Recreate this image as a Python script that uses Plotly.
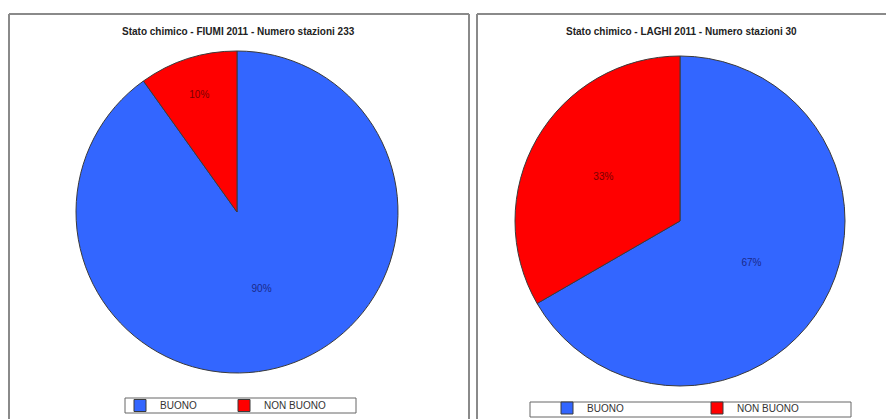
import plotly.graph_objects as go

# page body has an 8px margin, so the figure is drawn 8px smaller and offset
OFF = 8
W, H = 894 - OFF, 419 - OFF

categories = ["BUONO", "NON BUONO"]
# pie legends merge identical labels across traces; a trailing space keeps the
# second chart's legend entries separate while rendering the same text
categories_laghi = [c + " " for c in categories]
fiumi_values = [210, 23]
laghi_values = [20, 10]
titles = ["Stato chimico - FIUMI 2011 - Numero stazioni 233",
          "Stato chimico - LAGHI 2011 - Numero stazioni 30"]

colors = ["#3366FF", "#FF0000"]
text_colors = ["#1a2a8a", "#7a0000"]

def px(x):
    return (x - OFF) / W

def py(y):
    return 1 - (y - OFF) / H

fig = go.Figure()

fig.add_trace(go.Pie(
    labels=categories, values=fiumi_values, sort=False, direction="clockwise",
    rotation=0, marker=dict(colors=colors, line=dict(color="#3a3a3a", width=1)),
    texttemplate="%{percent:.0%}", textposition="inside",
    insidetextorientation="horizontal",
    textfont=dict(family="Liberation Sans", size=10, color=text_colors),
    domain=dict(x=[px(76), px(398)], y=[py(373), py(51)]),
    legend="legend", showlegend=True, hoverinfo="label+percent",
))
fig.add_trace(go.Pie(
    labels=categories_laghi, values=laghi_values, sort=False, direction="clockwise",
    rotation=0, marker=dict(colors=colors, line=dict(color="#3a3a3a", width=1)),
    texttemplate="%{percent:.0%}", textposition="inside",
    insidetextorientation="horizontal",
    textfont=dict(family="Liberation Sans", size=10, color=text_colors),
    domain=dict(x=[px(515), px(845)], y=[py(386), py(56)]),
    legend="legend2", showlegend=True, hoverinfo="label+percent",
))

border = dict(color="#8a8a8a", width=2)
shapes = [
    # left panel
    dict(type="line", xref="paper", yref="paper", x0=px(9), x1=px(9), y0=py(14), y1=py(430), line=border),
    dict(type="line", xref="paper", yref="paper", x0=px(9), x1=px(469), y0=py(14), y1=py(14), line=border),
    dict(type="line", xref="paper", yref="paper", x0=px(469), x1=px(469), y0=py(14), y1=py(430), line=border),
    # right panel
    dict(type="line", xref="paper", yref="paper", x0=px(477), x1=px(477), y0=py(14), y1=py(430), line=border),
    dict(type="line", xref="paper", yref="paper", x0=px(477), x1=px(900), y0=py(14), y1=py(14), line=border),
    # legend boxes
    dict(type="rect", xref="paper", yref="paper", x0=px(125), x1=px(356), y0=py(413), y1=py(398),
         line=dict(color="#666666", width=1)),
    dict(type="rect", xref="paper", yref="paper", x0=px(530), x1=px(851), y0=py(417), y1=py(402),
         line=dict(color="#666666", width=1)),
]

annotations = [
    dict(text="<b>" + titles[0] + "</b>", x=px(238), y=py(31), xref="paper", yref="paper",
         showarrow=False, xanchor="center", yanchor="middle",
         font=dict(family="Liberation Sans", size=10, color="#222222")),
    dict(text="<b>" + titles[1] + "</b>", x=px(681), y=py(31), xref="paper", yref="paper",
         showarrow=False, xanchor="center", yanchor="middle",
         font=dict(family="Liberation Sans", size=10, color="#222222")),
]

legend_font = dict(family="Liberation Sans", size=10, color="#333333")

fig.update_layout(
    width=W, height=H,
    margin=dict(l=0, r=0, t=0, b=0, autoexpand=False),
    paper_bgcolor="white", plot_bgcolor="white",
    shapes=shapes, annotations=annotations,
    legend=dict(orientation="h", x=px(120), y=py(405.5), xanchor="left", yanchor="middle",
                entrywidth=59, entrywidthmode="pixels", font=legend_font,
                bgcolor="rgba(0,0,0,0)", itemwidth=30, tracegroupgap=0),
    legend2=dict(orientation="h", x=px(547), y=py(408), xanchor="left", yanchor="middle",
                 entrywidth=105, entrywidthmode="pixels", font=legend_font,
                 bgcolor="rgba(0,0,0,0)", itemwidth=30, tracegroupgap=0),
)

fig.write_html("out.html")
